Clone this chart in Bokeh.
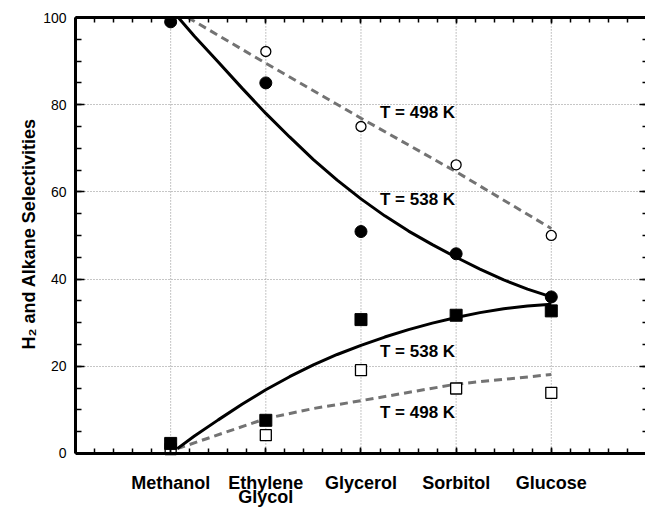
from bokeh.plotting import figure
from bokeh.models import (Range1d, LinearAxis, SingleIntervalTicker, FixedTicker,
                          Grid, ColumnDataSource, Title)
from bokeh.embed import file_html
from bokeh.resources import INLINE
from bokeh.core.properties import value

# Feed compounds, placed at integer positions along x
compounds = ["Methanol", "Ethylene\nGlycol", "Glycerol", "Sorbitol", "Glucose"]
compound_pos = [1, 2, 3, 4, 5]

# Measured selectivities (%)
h2_538 = [99.0, 85.0, 50.9, 45.8, 35.9]
h2_498 = [99.0, 92.2, 75.0, 66.2, 50.0]
alkane_538 = [2.3, 7.6, 30.7, 31.7, 32.7]
alkane_498 = [1.0, 4.2, 19.1, 14.9, 13.9]

# Trend lines through each series
h2_538_fit_x = [1.08, 1.25, 1.5, 1.75, 2.0, 2.25, 2.5, 2.75, 3.0,
                3.25, 3.5, 3.75, 4.0, 4.25, 4.5, 4.75, 5.0]
h2_538_fit_y = [100.0, 95.7, 89.8, 83.8, 78.0, 72.6, 67.4, 62.7, 58.4,
                54.5, 51.0, 47.9, 45.0, 42.3, 39.8, 37.7, 35.9]
alkane_538_fit_x = [1.07, 1.25, 1.5, 1.75, 2.0, 2.25, 2.5, 2.75, 3.0,
                    3.25, 3.5, 3.75, 4.0, 4.25, 4.5, 4.75, 5.0]
alkane_538_fit_y = [1.1, 4.0, 7.7, 11.3, 14.6, 17.6, 20.3, 22.7, 24.8,
                    26.7, 28.4, 29.9, 31.2, 32.3, 33.2, 33.8, 34.2]
h2_498_fit_x = [1.18, 2.0, 3.0, 4.0, 5.0]
h2_498_fit_y = [100.0, 89.5, 76.9, 64.6, 51.6]
alkane_498_fit_x = [1.07, 2.0, 2.5, 3.0, 4.0, 5.0]
alkane_498_fit_y = [1.1, 8.0, 10.3, 12.1, 15.9, 18.1]

# Temperature annotations
note_text = ["T = 498 K", "T = 538 K", "T = 538 K", "T = 498 K"]
note_x = [3.2, 3.2, 3.2, 3.2]
note_y = [78.3, 58.3, 23.4, 9.5]

Y_MIN, Y_MAX = 0, 100
FONT = "Liberation Sans"
GRAY = "#737373"
GRID = "#8c8c8c"

# The frame runs down to the bottom edge so the compound names can sit under
# the y = 0 axis; the axes themselves are bounded to 0..100.
p = figure(width=645, height=507, x_range=Range1d(0, 5.99), y_range=Range1d(-12.4, Y_MAX),
           x_axis_type=None, y_axis_type=None,
           output_backend="svg", toolbar_location=None,
           min_border_left=75, min_border_top=17, min_border_right=0, min_border_bottom=0,
           outline_line_color=None, background_fill_color="white")

x_ticker = SingleIntervalTicker(interval=1, num_minor_ticks=5)
y_ticker = SingleIntervalTicker(interval=20, num_minor_ticks=4)

common = dict(axis_line_width=3, axis_line_color="black",
              major_tick_out=0, minor_tick_out=0,
              major_tick_line_width=1.5, minor_tick_line_width=1.5)
no_labels = dict(major_label_text_font_size="0px", major_label_text_color=None,
                 major_label_standoff=0)

p.add_layout(LinearAxis(ticker=x_ticker, major_tick_in=6, minor_tick_in=5,
                        fixed_location=Y_MIN, **no_labels, **common), "below")
p.add_layout(LinearAxis(ticker=x_ticker, major_tick_in=6, minor_tick_in=5,
                        **no_labels, **common), "above")

left = LinearAxis(ticker=y_ticker, bounds=(Y_MIN, Y_MAX),
                  major_tick_in=9, minor_tick_in=6,
                  major_label_standoff=9,
                  major_label_text_font=FONT, major_label_text_font_size="14px",
                  major_label_text_color="black",
                  **common)
p.add_layout(left, "left")

# y-axis title, set along the 0..100 part of the frame
p.add_layout(Title(text="H₂ and Alkane Selectivities", align="left", offset=158,
                   text_font=FONT, text_font_size="18px", text_font_style="bold",
                   text_color="black", standoff=3), "left")

p.add_layout(LinearAxis(ticker=y_ticker, bounds=(Y_MIN, Y_MAX),
                        major_tick_in=6, minor_tick_in=3,
                        axis_line_color=None, major_tick_out=0, minor_tick_out=0,
                        major_tick_line_width=1.5, minor_tick_line_width=1.5,
                        **no_labels), "right")

# dotted grid: horizontal across the frame, vertical at each compound
p.add_layout(Grid(dimension=1, ticker=FixedTicker(ticks=[20, 40, 60, 80]),
                  grid_line_color=GRID, grid_line_dash="1 2", grid_line_width=1))
p.segment(x0=compound_pos, y0=[Y_MIN] * len(compound_pos),
          x1=compound_pos, y1=[Y_MAX] * len(compound_pos),
          line_color=GRID, line_dash="1 2", line_width=1)

# Compound names below the axis, one text row per line
first_lines = [c.split("\n")[0] for c in compounds]
second_pos = [x for x, c in zip(compound_pos, compounds) if "\n" in c]
second_lines = [c.split("\n")[1] for c in compounds if "\n" in c]
name_style = dict(text_font=value(FONT), text_font_size="18px", text_font_style="bold",
                  text_color="black", text_align="center", text_baseline="middle")
p.text(compound_pos, [-6.7] * len(compound_pos), text=first_lines, **name_style)
p.text(second_pos, [-10.1] * len(second_pos), text=second_lines, **name_style)

# Trend lines
p.line(h2_498_fit_x, h2_498_fit_y, line_color=GRAY, line_width=3, line_dash="8 5")
p.line(alkane_498_fit_x, alkane_498_fit_y, line_color=GRAY, line_width=3, line_dash="8 5")
p.line(h2_538_fit_x, h2_538_fit_y, line_color="black", line_width=3)
p.line(alkane_538_fit_x, alkane_538_fit_y, line_color="black", line_width=3)

# Data points
src = ColumnDataSource(dict(x=compound_pos, h2_538=h2_538, h2_498=h2_498,
                            alk_538=alkane_538, alk_498=alkane_498))
p.scatter("x", "h2_498", source=src, marker="circle", size=10,
          fill_color="white", line_color="black", line_width=1.3)
p.scatter("x", "alk_498", source=src, marker="square", size=11,
          fill_color="white", line_color="black", line_width=1.3)
p.scatter("x", "h2_538", source=src, marker="circle", size=12,
          fill_color="black", line_color="black")
p.scatter("x", "alk_538", source=src, marker="square", size=12,
          fill_color="black", line_color="black")

p.text(note_x, note_y, text=note_text, text_font=value(FONT), text_font_size="17px",
       text_font_style="bold", text_color="black",
       text_align="left", text_baseline="middle")

open("out.html", "w").write(file_html(p, INLINE))
